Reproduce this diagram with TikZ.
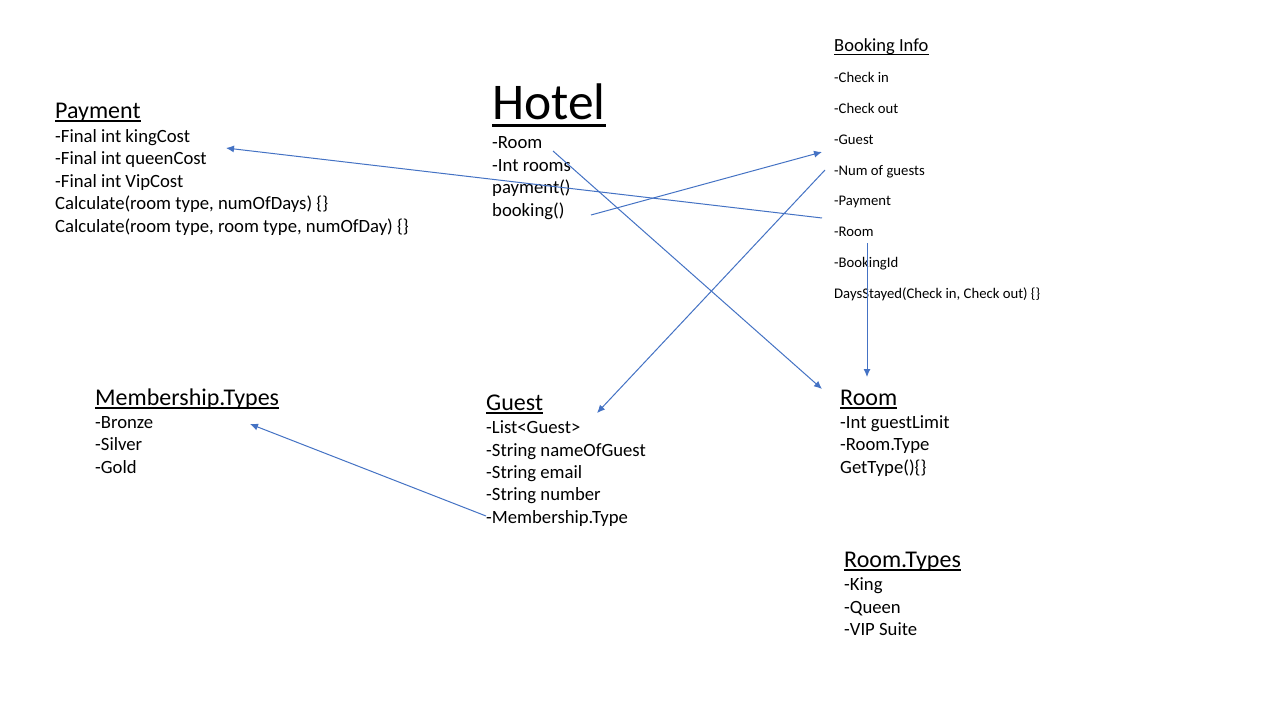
\documentclass[tikz,border=0pt]{standalone}
\usepackage{fontspec}
\setmainfont{Carlito}
\usetikzlibrary{arrows.meta}
\definecolor{arrowblue}{HTML}{4472C4}
\tikzset{
  txt/.style={anchor=base west, inner sep=0pt, font=\fontsize{18.7}{22}\selectfont},
  small/.style={anchor=base west, inner sep=0pt, font=\fontsize{14.7}{17}\selectfont},
  hd/.style={anchor=base west, inner sep=0pt, font=\fontsize{24}{28}\selectfont},
  bkhd/.style={anchor=base west, inner sep=0pt, font=\fontsize{18.5}{21}\selectfont},
  title/.style={anchor=base west, inner sep=0pt, font=\fontsize{51.5}{56}\selectfont},
  ul/.style={line width=1.6pt},
  conn/.style={draw=arrowblue, line width=1pt, -{Latex[length=8pt,width=7pt]}}
}
\begin{document}
\begin{tikzpicture}[x=1pt,y=-1pt]
\useasboundingbox[fill=white] (0,0) rectangle (1280,720);

% Hotel
\node[title] (hotelH) at (492,119) {Hotel};
\draw[line width=3pt] ([yshift=-6pt]hotelH.base west) -- ([yshift=-6pt]hotelH.base east);
\node[txt] (h1) at (492,148) {-Room};
\node[txt] (h2) at (492,171) {-Int rooms};
\node[txt] (h3) at (492,193) {payment()};
\node[txt] (h4) at (492,216) {booking()};

% Payment
\node[hd] (payH) at (55,118) {Payment};
\draw[ul] ([yshift=-3pt]payH.base west) -- ([yshift=-3pt]payH.base east);
\node[txt] (p1) at (55,142) {-Final int kingCost};
\node[txt] (p2) at (55,164) {-Final int queenCost};
\node[txt] (p3) at (55,187) {-Final int VipCost};
\node[txt] (p4) at (55,209) {Calculate(room type, numOfDays) \{\}};
\node[txt] (p5) at (55,232) {Calculate(room type, room type, numOfDay) \{\}};

% Booking Info
\node[bkhd] (bkH) at (834,51) {Booking Info};
\draw[line width=1pt] ([yshift=-3pt]bkH.base west) -- ([yshift=-3pt]bkH.base east);
\node[small] (b1) at (834,82) {-Check in};
\node[small] (b2) at (834,113) {-Check out};
\node[small] (b3) at (834,144) {-Guest};
\node[small] (b4) at (834,175) {-Num of guests};
\node[small] (b5) at (834,205) {-Payment};
\node[small] (b6) at (834,236) {-Room};
\node[small] (b7) at (834,267) {-BookingId};
\node[small] (b8) at (834,298) {DaysStayed(Check in, Check out) \{\}};

% Guest
\node[hd] (gH) at (486,410) {Guest};
\draw[ul] ([yshift=-3pt]gH.base west) -- ([yshift=-3pt]gH.base east);
\node[txt] (g1) at (486,433) {-List<Guest>};
\node[txt] (g2) at (486,456) {-String nameOfGuest};
\node[txt] (g3) at (486,478) {-String email};
\node[txt] (g4) at (486,500) {-String number};
\node[txt] (g5) at (486,523) {-Membership.Type};

% Room
\node[hd] (rH) at (840,405) {Room};
\draw[ul] ([yshift=-3pt]rH.base west) -- ([yshift=-3pt]rH.base east);
\node[txt] (r1) at (840,428) {-Int guestLimit};
\node[txt] (r2) at (840,450) {-Room.Type};
\node[txt] (r3) at (840,473) {GetType()\{\}};

% Membership.Types
\node[hd] (mH) at (95,405) {Membership.Types};
\draw[ul] ([yshift=-3pt]mH.base west) -- ([yshift=-3pt]mH.base east);
\node[txt] (m1) at (95,428) {-Bronze};
\node[txt] (m2) at (95,450) {-Silver};
\node[txt] (m3) at (95,473) {-Gold};

% Room.Types
\node[hd] (rtH) at (844,567) {Room.Types};
\draw[ul] ([yshift=-3pt]rtH.base west) -- ([yshift=-3pt]rtH.base east);
\node[txt] (rt1) at (844,590) {-King};
\node[txt] (rt2) at (844,613) {-Queen};
\node[txt] (rt3) at (844,635) {-VIP Suite};

% connector end points
\coordinate (bkRoomOut) at (822,218);
\coordinate (payIn) at (226,148);
\coordinate (bookingOut) at (591,215);
\coordinate (bkGuestIn) at (822,152);
\coordinate (bkNumOut) at (825,170);
\coordinate (guestIn) at (597,413);
\coordinate (hotelRoomOut) at (553,151);
\coordinate (roomIn) at (822,389);
\coordinate (bkRoomDown) at (867,243);
\coordinate (roomTop) at (867,377);
\coordinate (gMemOut) at (486,516);
\coordinate (memIn) at (250,424);

\draw[conn] (bkRoomOut) -- (payIn);
\draw[conn] (bookingOut) -- (bkGuestIn);
\draw[conn] (bkNumOut) -- (guestIn);
\draw[conn] (hotelRoomOut) -- (roomIn);
\draw[conn] (bkRoomDown) -- (roomTop);
\draw[conn] (gMemOut) -- (memIn);
\end{tikzpicture}
\end{document}
